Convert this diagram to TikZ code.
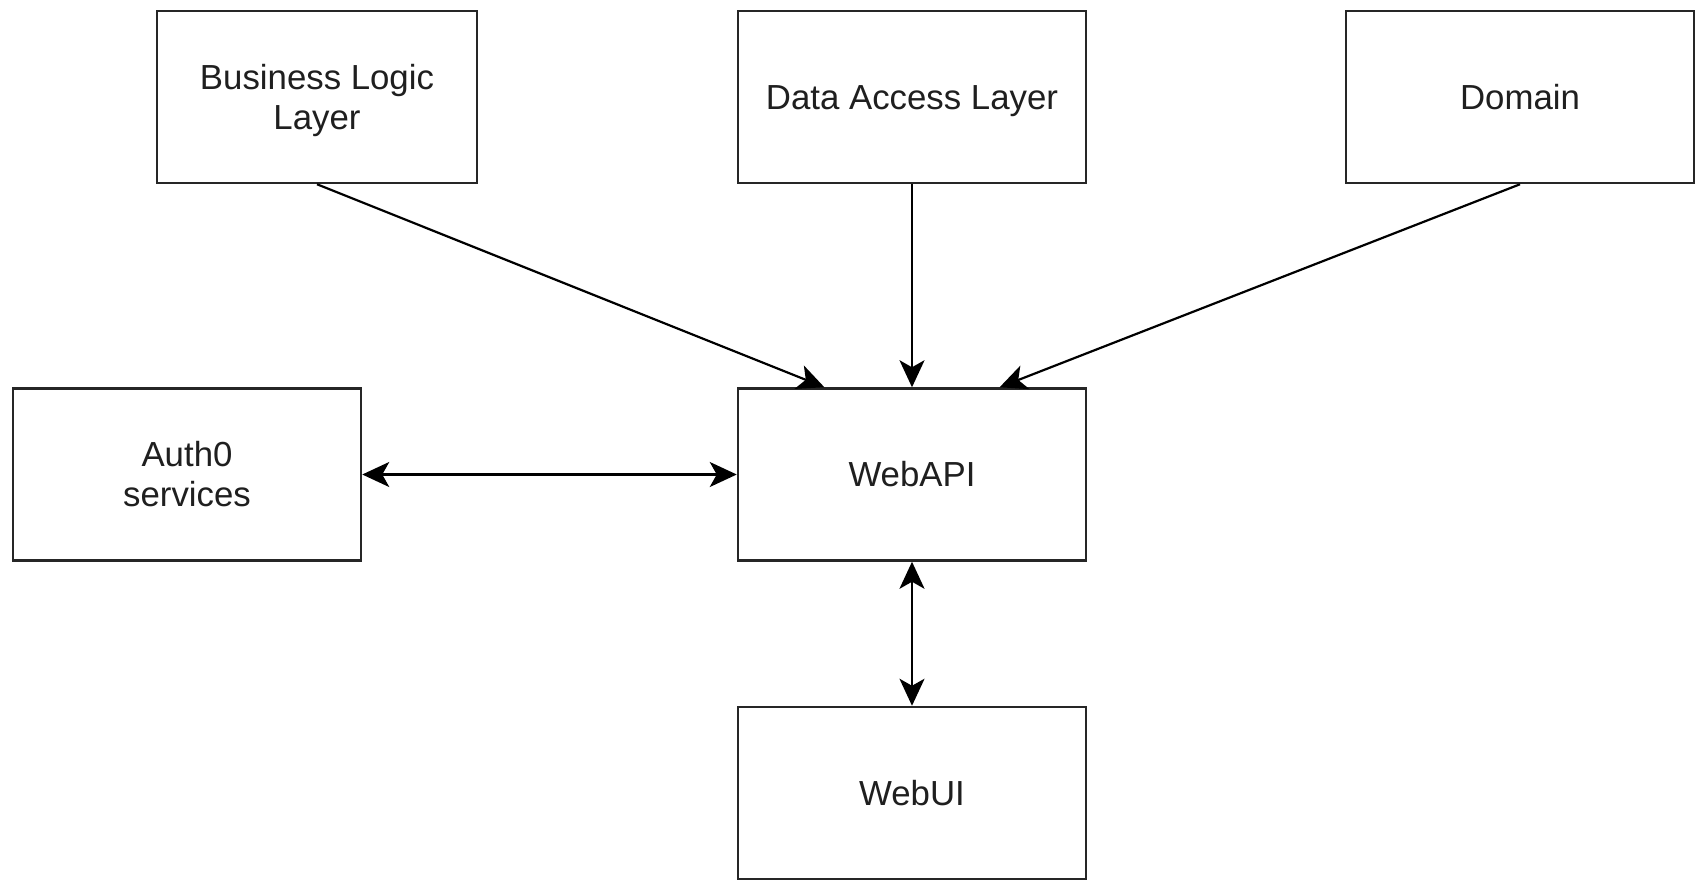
\documentclass[tikz,border=0pt]{standalone}
\usepackage{fontspec}
\setmainfont{Liberation Sans}
\usetikzlibrary{arrows.meta,calc}
\newcommand\capup{\rule{0pt}{0.926em}}
\newcommand\capdown{\rule[-0.21em]{0pt}{0pt}}
\begin{document}
\begin{tikzpicture}[x=0.5pt,y=-0.5pt,
  box/.style={draw=black!85, line width=1.25pt, fill=white, rectangle, inner sep=0pt,
    minimum width=174pt, minimum height=86pt, align=center,
    font=\fontsize{17.4pt}{20pt}\selectfont, text=black!88},
  tipA/.tip={Stealth[length=13.5pt,width=12.5pt,inset=3.5pt]},
  conn/.style={line width=1.1pt, -tipA},
  biconn/.style={line width=1.1pt, tipA-tipA}
]
\useasboundingbox (0,0) rectangle (1703,879);
\fill[white] (0,0) rectangle (1703,879);

\node[box, minimum width=160pt] (bll) at (317,97) {\capup Business Logic\\Layer\capdown};
\node[box] (dal) at (912,97) {\capup\capdown Data Access Layer};
\node[box] (dom) at (1520,97) {\capup\capdown Domain};
\node[box] (auth) at (187,474.5) {\capup Auth0\\services\capdown};
\node[box] (api) at (912,474.5) {\capup\capdown WebAPI};
\node[box] (ui) at (912,793) {\capup\capdown WebUI};

\draw[conn] (bll.south) -- ($(api.north west)!0.25!(api.north east)$);
\draw[conn] (dal.south) -- (api.north);
\draw[conn] (dom.south) -- ($(api.north west)!0.75!(api.north east)$);
\draw[biconn] (auth.east) -- (api.west);
\draw[biconn] (api.south) -- (ui.north);
\end{tikzpicture}
\end{document}
